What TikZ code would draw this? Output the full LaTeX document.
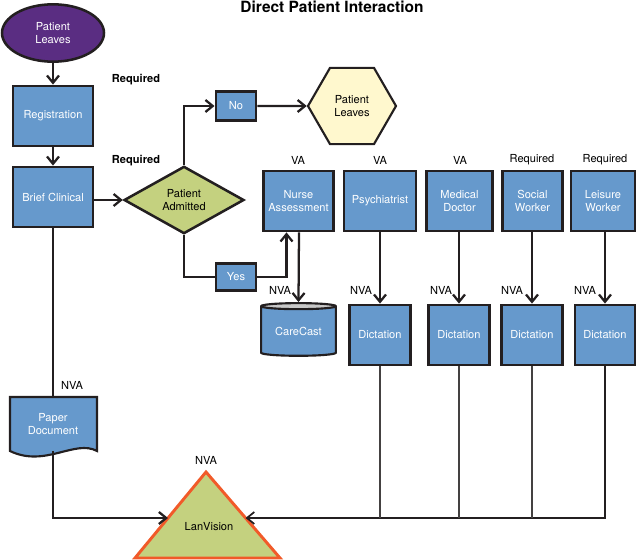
\documentclass[tikz,border=0pt]{standalone}
\usepackage{fontspec}
\setmainfont{TeX Gyre Heros}
\usetikzlibrary{arrows.meta,positioning,calc,shapes.geometric}
\definecolor{procblue}{HTML}{6699CC}
\definecolor{startpurple}{HTML}{5A2D82}
\definecolor{decgreen}{HTML}{C4D17F}
\definecolor{endyellow}{HTML}{FFF8CE}
\definecolor{edgeorange}{HTML}{F15A29}
\definecolor{ink}{HTML}{231F20}
\definecolor{capgrey}{HTML}{C8C8C8}
\tikzset{
  every node/.style = {font=\fontsize{8.3}{9.9}\selectfont},
  proc/.style       = {draw=ink, line width=1.9pt, fill=procblue, text=white, align=center,
                       inner sep=1pt, minimum width=#1, minimum height=45.2pt},
  proc/.default     = 53pt,
  choice/.style     = {draw=ink, line width=1.9pt, fill=procblue, text=white,
                       inner sep=1pt, minimum width=30.3pt, minimum height=22pt},
  flow/.style       = {-{Straight Barb[length=5.5pt,width=9pt]}, line width=1.7pt, draw=ink},
  wire/.style       = {line width=1.7pt, draw=ink},
  bus/.style        = {line width=1.3pt, draw=ink!85},
  lbl/.style        = {inner sep=1pt},
  req/.style        = {font=\fontsize{8.3}{9.9}\selectfont\bfseries, inner sep=1pt},
}

\begin{document}
\begin{tikzpicture}[x=0.75pt, y=-0.75pt]
  \useasboundingbox (0,0) rectangle (640,560);
  \node[font=\fontsize{11.6}{13}\selectfont\bfseries] (title) at (332,7) {Direct Patient Interaction};

  % left column
  \node[ellipse, draw=ink, line width=1.9pt, fill=startpurple, text=white, align=center,
        minimum width=76.5pt, minimum height=43pt, inner sep=0pt] (start) at (53,33) {Patient\\Leaves};
  \node[proc=60.2pt] (reg) at (53,116) {Registration};
  \node[proc=60.2pt] (clin) at (53,197) {Brief Clinical};
  \node[req] (reqreg) at (136,80) {Required};
  \node[req] (reqclin) at (136,161) {Required};
  \draw[flow] (start) -- (reg);
  \draw[flow] (reg) -- (clin);

  % admission decision
  \node[diamond, draw=ink, line width=1.9pt, fill=decgreen, align=center,
        minimum width=90pt, minimum height=50.5pt, inner sep=0pt] (adm) at (184,200) {Patient\\Admitted};
  \node[choice] (no) at (236,106) {No};
  \node[choice, minimum height=20.6pt] (yes) at (236,277) {Yes};
  \node[regular polygon, regular polygon sides=6, draw=ink, line width=1.6pt, fill=endyellow,
        align=center, minimum size=66pt, inner sep=0pt] (out) at (352,106) {Patient\\Leaves};
  \draw[flow] (clin.east |- adm) -- (adm.west);
  \draw[flow] (adm.north) |- (no);
  \draw[flow] (no) -- (out);
  \draw[wire] (adm.south) |- (yes);

  % care team
  \node[proc=52.7pt] (nurse) at (298.5,201) {Nurse\\Assessment};
  \node[proc=53.7pt] (psy) at (380,201) {Psychiatrist};
  \node[proc=49.7pt] (doc) at (459.5,201) {Medical\\Doctor};
  \node[proc=45.3pt] (sw) at (532.5,201) {Social\\Worker};
  \node[proc=47.7pt] (lw) at (603,201) {Leisure\\Worker};
  \node[lbl] (vanurse) at (298,160) {VA};
  \node[lbl] (vapsy) at (380,160) {VA};
  \node[lbl] (vadoc) at (460,160) {VA};
  \node[lbl] (reqsw) at (532,160) {Required};
  \node[lbl] (reqlw) at (605,160) {Required};
  \draw[flow] (yes.east) -| ($(nurse.south)+(-12,0)$);

  \node[cylinder, shape border rotate=90, aspect=0.13, draw=ink, line width=1.6pt,
        cylinder uses custom fill, cylinder body fill=procblue, cylinder end fill=capgrey,
        text=white, minimum width=56pt, minimum height=39.5pt, inner sep=0pt] (cc) at (298.5,331.5) {CareCast};
  \node[proc=46.1pt] (d1) at (380,335) {Dictation};
  \node[proc=46.1pt] (d2) at (459,335) {Dictation};
  \node[proc=46.1pt] (d3) at (532,335) {Dictation};
  \node[proc=44.7pt] (d4) at (605,335) {Dictation};
  \node[lbl] (nvacc) at (280,290) {NVA};
  \node[lbl] (nva1) at (361,290) {NVA};
  \node[lbl] (nva2) at (441,290) {NVA};
  \node[lbl] (nva3) at (512,290) {NVA};
  \node[lbl] (nva4) at (585,290) {NVA};
  \draw[flow] ($(nurse.south)+(0.5,0)$) -- (cc.north);
  \foreach \a/\b in {psy/d1, doc/d2, sw/d3, lw/d4}
    \draw[flow] (\b.north |- \a.south) -- (\b.north);

  % paper record
  \draw[draw=ink, line width=1.6pt, fill=procblue] (10,397) -- (97,397) -- (97,451)
    .. controls (75,439) and (45,468) .. (10,451) -- cycle;
  \node[text=white, align=center, minimum width=63pt, minimum height=40pt, inner sep=0pt] (paper) at (53,424) {Paper\\Document};
  \node[lbl] (nvapaper) at (72,385) {NVA};
  \draw[wire] (clin) -- (paper);

  % LanVision
  \coordinate (lvtop) at (206,472);
  \coordinate (lvbl) at (135,558);
  \coordinate (lvbr) at (280,558);
  \draw[draw=edgeorange, fill=decgreen, line width=2.2pt, line join=miter] (lvtop) -- (lvbr) -- (lvbl) -- cycle;
  \node (lv) at (209,527) {LanVision};
  \node[lbl] (nvalv) at (206,460) {NVA};
  \coordinate (lvl) at ($(lvtop)!0.535!(lvbl)$);
  \coordinate (lvr) at ($(lvtop)!0.535!(lvbr)$);
  \draw[flow] (paper.south) |- (lvl);
  \draw[flow, line width=1.3pt] (d4.south) |- (lvr);
  \foreach \d in {d1,d2,d3}
    \draw[bus] (\d.south) -- (\d.south |- lvr);
\end{tikzpicture}
\end{document}
